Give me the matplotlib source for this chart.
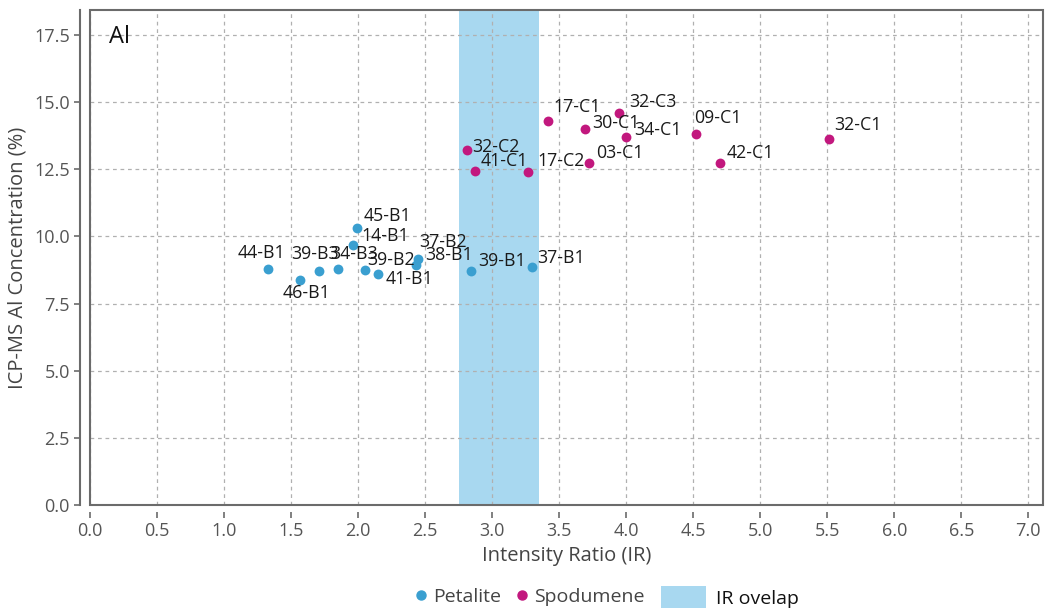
import matplotlib
matplotlib.use("Agg")
import matplotlib.pyplot as plt
from matplotlib.lines import Line2D
from matplotlib.patches import Patch, Rectangle
import numpy as np

plt.rcParams['font.family'] = ['Open Sans', 'DejaVu Sans']

# Petalite samples
pet_labels = ["44-B1", "46-B1", "39-B3", "34-B3", "14-B1", "45-B1",
              "39-B2", "41-B1", "37-B2", "38-B1", "39-B1", "37-B1"]
pet_ir = [1.33, 1.57, 1.71, 1.85, 1.96, 1.99, 2.05, 2.15, 2.45, 2.43, 2.84, 3.30]
pet_al = [8.79, 8.38, 8.71, 8.79, 9.68, 10.31, 8.75, 8.60, 9.16, 8.94, 8.71, 8.86]

# Spodumene samples
spo_labels = ["17-C1", "32-C3", "30-C1", "34-C1", "09-C1", "32-C1",
              "32-C2", "41-C1", "17-C2", "03-C1", "42-C1"]
spo_ir = [3.42, 3.95, 3.69, 4.00, 4.52, 5.51, 2.81, 2.87, 3.27, 3.72, 4.70]
spo_al = [14.30, 14.59, 14.00, 13.70, 13.81, 13.63, 13.22, 12.43, 12.40, 12.73, 12.73]

# IR overlap band
overlap = (2.75, 3.35)

# label offsets in pixels (left edge of text, vertical centre)
pet_off = [(-31, 16), (-18, -13), (-28, 17), (-8, 15), (9, 9), (7, 12),
           (2, 10), (7, -5), (1, 17), (9, 10), (8, 10), (5, 9)]
spo_off = [(5, 14), (10, 11), (8, 6), (8, 7), (-2, 16), (6, 14),
           (6, 3), (6, 10), (9, 11), (8, 10), (7, 10)]

pet_color = '#3a9fd0'
spo_color = '#c2187e'
band_color = '#a8d8f0'
frame_color = '#6b6b6b'
tick_color = '#555555'

fig = plt.figure(figsize=(10.48, 6.15), dpi=100)
ax = fig.add_axes([90 / 1048, 110 / 615, 953 / 1048, 495 / 615])

ax.axvspan(overlap[0], overlap[1], color=band_color, lw=0, zorder=1)
ax.scatter(pet_ir, pet_al, s=50, color=pet_color, zorder=3, linewidths=0)
ax.scatter(spo_ir, spo_al, s=50, color=spo_color, zorder=3, linewidths=0)

for lab, x, y, (dx, dy) in zip(pet_labels, pet_ir, pet_al, pet_off):
    ax.annotate(lab, (x, y), xytext=(dx, dy), textcoords='offset pixels',
                ha='left', va='center', fontsize=12.8, color='#1a1a1a', zorder=4)
for lab, x, y, (dx, dy) in zip(spo_labels, spo_ir, spo_al, spo_off):
    ax.annotate(lab, (x, y), xytext=(dx, dy), textcoords='offset pixels',
                ha='left', va='center', fontsize=12.8, color='#1a1a1a', zorder=4)

ax.set_xlim(0, 7.11)
ax.set_ylim(0, 18.43)
ax.set_xticks(np.arange(0, 7.01, 0.5))
ax.set_yticks(np.arange(0, 17.51, 2.5))
ax.xaxis.set_major_formatter('{x:.1f}')
ax.yaxis.set_major_formatter('{x:.1f}')
ax.grid(True, linestyle=(0, (3, 3)), color='#b0b0b0', linewidth=0.9)

for s in ['top', 'right']:
    ax.spines[s].set_visible(False)
ax.spines['left'].set_position(('outward', 7))
ax.spines['left'].set_color(frame_color)
ax.spines['left'].set_linewidth(1.5)
ax.spines['bottom'].set_position(('outward', 5))
ax.spines['bottom'].set_visible(False)
ax.add_patch(Rectangle((0, 0), 1, 1, transform=ax.transAxes, fill=False,
                       edgecolor=frame_color, linewidth=1.5, clip_on=False, zorder=5))

ax.tick_params(axis='both', colors=frame_color, labelcolor=tick_color,
               labelsize=13, length=4, width=1.2)

ax.set_xlabel('Intensity Ratio (IR)', fontsize=14.5, color='#444444', labelpad=4)
ax.set_ylabel('ICP-MS Al Concentration (%)', fontsize=14.5, color='#444444', labelpad=5)

ax.text(0.02, 0.97, 'Al', transform=ax.transAxes, fontsize=17, color='#111111',
        ha='left', va='top')

h1 = [Line2D([], [], marker='o', linestyle='none', color=pet_color, markersize=6.5),
      Line2D([], [], marker='o', linestyle='none', color=spo_color, markersize=6.5)]
fig.legend(h1, ['Petalite', 'Spodumene'], loc='center', ncol=2,
           bbox_to_anchor=(530 / 1048, 1 - 597 / 615), frameon=False,
           handlelength=0.6, handletextpad=0.3, columnspacing=0.8,
           fontsize=14, labelcolor='#444444')
h2 = [Patch(facecolor=band_color, edgecolor='none')]
fig.legend(h2, ['IR ovelap'], loc='center',
           bbox_to_anchor=(730 / 1048, 1 - 597 / 615), frameon=False,
           handlelength=2.3, handleheight=1.3, handletextpad=0.5,
           fontsize=14, labelcolor='#111111')

fig.savefig('out.png', dpi=100)
